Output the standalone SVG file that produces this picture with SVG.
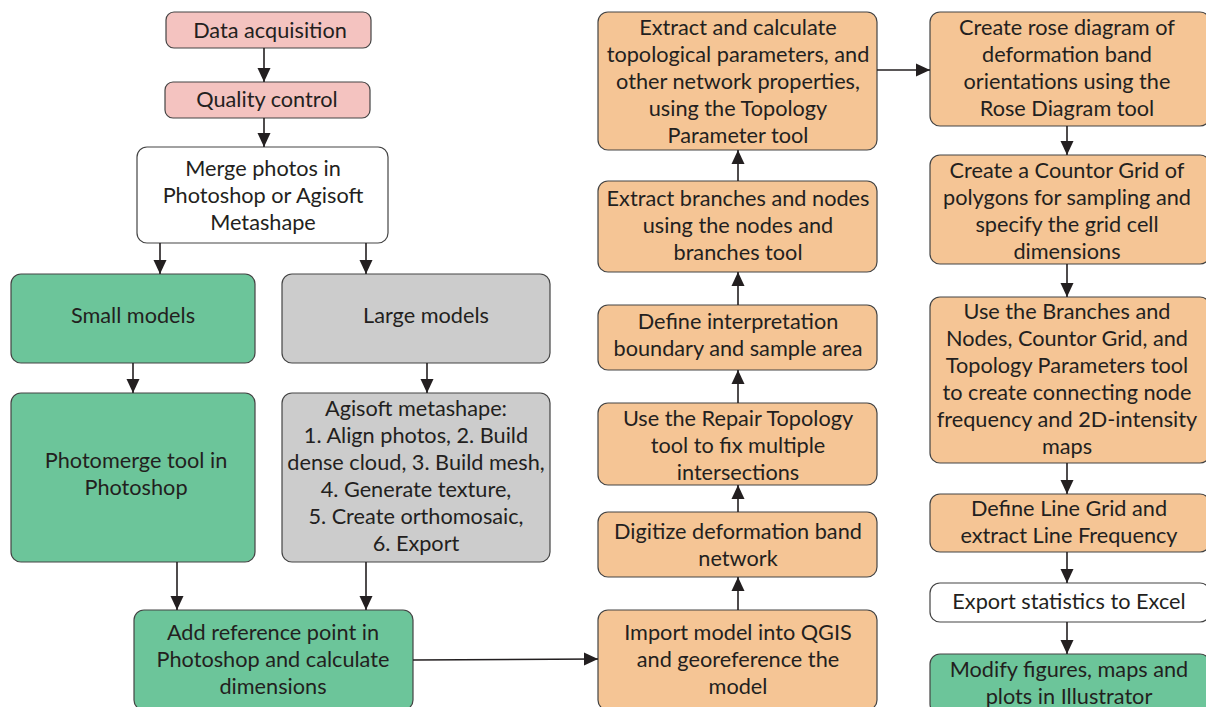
<svg xmlns="http://www.w3.org/2000/svg" width="1206" height="707" viewBox="0 0 1206 707">
<defs>
<marker id="ah" viewBox="0 0 14 14" refX="14" refY="7" markerWidth="14" markerHeight="14" markerUnits="userSpaceOnUse" orient="auto">
<path d="M0,0.5 L14,7 L0,13.5 Z" fill="#231f20"/>
</marker>
<style>
.b{stroke:#444;stroke-width:1.2}
.pink{fill:#f4c3c0}
.white{fill:#ffffff}
.green{fill:#6cc59a}
.gray{fill:#cccccc}
.orange{fill:#f5c595}
text{font-family:Lato,"Liberation Sans",sans-serif;font-size:21.7px;fill:#231f20;text-anchor:middle}
.c line{stroke:#231f20;stroke-width:1.6;marker-end:url(#ah)}
</style>
</defs>
<rect width="1206" height="707" fill="#ffffff"/>
<g id="n1"><rect class="b pink" x="166" y="12" width="205" height="36" rx="8"/><text x="270" y="38">Data acquisition</text></g>
<g id="n2"><rect class="b pink" x="165" y="82" width="205" height="36" rx="8"/><text x="267" y="107">Quality control</text></g>
<g id="n3"><rect class="b white" x="137" y="147" width="251" height="96" rx="10"/><text x="263" y="176">Merge photos in</text><text x="263" y="203">Photoshop or Agisoft</text><text x="263" y="230">Metashape</text></g>
<g id="n4"><rect class="b green" x="11" y="274" width="244" height="89" rx="10"/><text x="133" y="323">Small models</text></g>
<g id="n5"><rect class="b gray" x="282" y="274" width="268" height="89" rx="10"/><text x="426" y="323">Large models</text></g>
<g id="n6"><rect class="b green" x="11" y="393" width="244" height="169" rx="10"/><text x="136" y="468">Photomerge tool in</text><text x="136" y="495">Photoshop</text></g>
<g id="n7"><rect class="b gray" x="282" y="393" width="268" height="169" rx="10"/><text x="416" y="416">Agisoft metashape:</text><text x="416" y="443">1. Align photos, 2. Build</text><text x="416" y="470">dense cloud, 3. Build mesh,</text><text x="416" y="497">4. Generate texture,</text><text x="416" y="524">5. Create orthomosaic,</text><text x="416" y="551">6. Export</text></g>
<g id="n8"><rect class="b green" x="134" y="610" width="279" height="100" rx="10"/><text x="273" y="640">Add reference point in</text><text x="273" y="667">Photoshop and calculate</text><text x="273" y="694">dimensions</text></g>
<g id="n9"><rect class="b orange" x="598" y="610" width="279" height="100" rx="10"/><text x="738" y="640">Import model into QGIS</text><text x="738" y="667">and georeference the</text><text x="738" y="694">model</text></g>
<g id="n10"><rect class="b orange" x="598" y="512" width="279" height="65" rx="10"/><text x="738" y="539">Digitize deformation band</text><text x="738" y="566">network</text></g>
<g id="n11"><rect class="b orange" x="598" y="403" width="279" height="82" rx="10"/><text x="738" y="426">Use the Repair Topology</text><text x="738" y="453">tool to fix multiple</text><text x="738" y="480">intersections</text></g>
<g id="n12"><rect class="b orange" x="598" y="305" width="279" height="65" rx="10"/><text x="738" y="329">Define interpretation</text><text x="738" y="356">boundary and sample area</text></g>
<g id="n13"><rect class="b orange" x="598" y="181" width="279" height="91" rx="10"/><text x="738" y="206">Extract branches and nodes</text><text x="738" y="233">using the nodes and</text><text x="738" y="260">branches tool</text></g>
<g id="n14"><rect class="b orange" x="598" y="12" width="279" height="138" rx="10"/><text x="738" y="35">Extract and calculate</text><text x="738" y="62">topological parameters, and</text><text x="738" y="89">other network properties,</text><text x="738" y="116">using the Topology</text><text x="738" y="143">Parameter tool</text></g>
<g id="n15"><rect class="b orange" x="930" y="12" width="280" height="114" rx="10"/><text x="1067" y="35">Create rose diagram of</text><text x="1067" y="62">deformation band</text><text x="1067" y="89">orientations using the</text><text x="1067" y="116">Rose Diagram tool</text></g>
<g id="n16"><rect class="b orange" x="930" y="155" width="280" height="109" rx="10"/><text x="1067" y="178">Create a Countor Grid of</text><text x="1067" y="205">polygons for sampling and</text><text x="1067" y="232">specify the grid cell</text><text x="1067" y="259">dimensions</text></g>
<g id="n17"><rect class="b orange" x="930" y="297" width="280" height="166" rx="10"/><text x="1067" y="319">Use the Branches and</text><text x="1067" y="346">Nodes, Countor Grid, and</text><text x="1067" y="373">Topology Parameters tool</text><text x="1067" y="400">to create connecting node</text><text x="1067" y="427">frequency and 2D-intensity</text><text x="1067" y="454">maps</text></g>
<g id="n18"><rect class="b orange" x="930" y="494" width="280" height="58" rx="10"/><text x="1069" y="516">Define Line Grid and</text><text x="1069" y="543">extract Line Frequency</text></g>
<g id="n19"><rect class="b white" x="930" y="583" width="280" height="39" rx="10"/><text x="1069" y="609">Export statistics to Excel</text></g>
<g id="n20"><rect class="b green" x="930" y="654" width="280" height="60" rx="10"/><text x="1069" y="677">Modify figures, maps and</text><text x="1069" y="704">plots in Illustrator</text></g>
<g class="c" id="connectors">
<line x1="264" y1="48" x2="264" y2="82"/>
<line x1="264" y1="118" x2="264" y2="147"/>
<line x1="160" y1="243" x2="160" y2="274"/>
<line x1="366" y1="243" x2="366" y2="274"/>
<line x1="133" y1="363" x2="133" y2="393"/>
<line x1="427" y1="363" x2="427" y2="393"/>
<line x1="177" y1="562" x2="177" y2="610"/>
<line x1="366" y1="562" x2="366" y2="610"/>
<line x1="413" y1="660" x2="598" y2="659"/>
<line x1="738" y1="610" x2="738" y2="577"/>
<line x1="738" y1="512" x2="738" y2="485"/>
<line x1="738" y1="403" x2="738" y2="370"/>
<line x1="738" y1="305" x2="738" y2="272"/>
<line x1="738" y1="181" x2="738" y2="150"/>
<line x1="877" y1="70" x2="930" y2="70"/>
<line x1="1067" y1="126" x2="1067" y2="155"/>
<line x1="1067" y1="264" x2="1067" y2="297"/>
<line x1="1067" y1="463" x2="1067" y2="494"/>
<line x1="1067" y1="552" x2="1067" y2="583"/>
<line x1="1067" y1="622" x2="1067" y2="654"/>
</g>
</svg>
